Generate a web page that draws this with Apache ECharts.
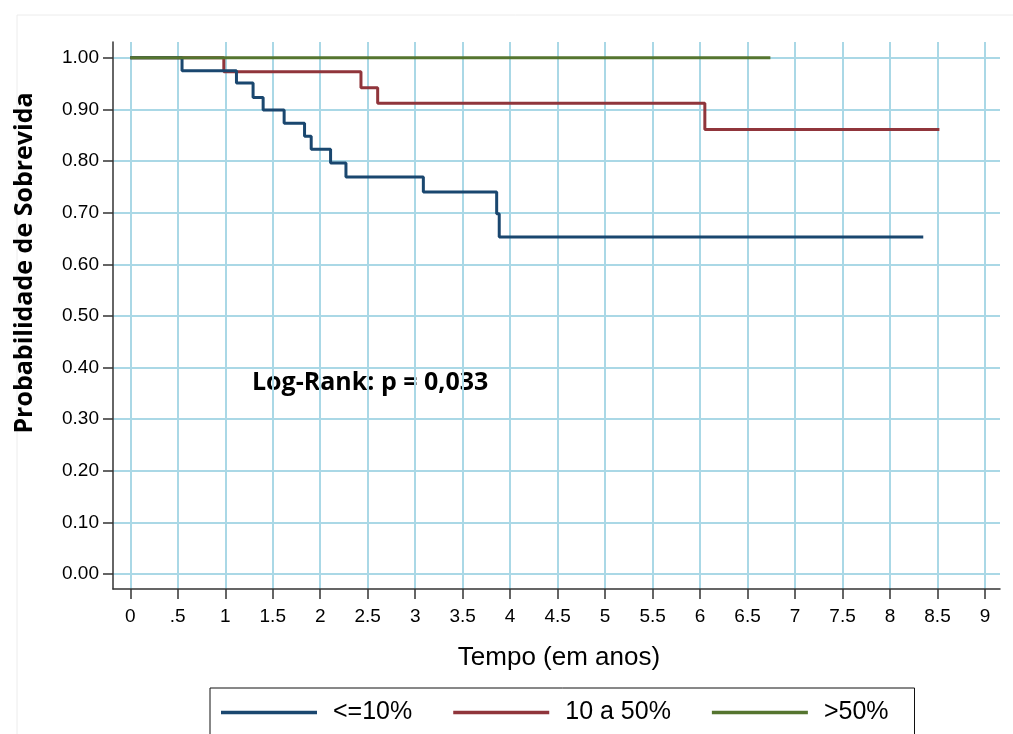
<!DOCTYPE html>
<html>
<head>
<meta charset="utf-8">
<script src="https://cdn.jsdelivr.net/npm/echarts@6/dist/echarts.min.js"></script>
<style>
html,body{margin:0;padding:0;background:#fff;}
#chart{width:1013px;height:734px;}
</style>
</head>
<body>
<div id="chart"></div>
<script>
// ---- Data ----
const seriesNames = ['<=10%', '10 a 50%', '>50%'];
const lowTimes = [0, 0.545, 1.118, 1.293, 1.399, 1.620, 1.835, 1.905, 2.109, 2.271, 3.086, 3.858, 3.885, 8.35];
const lowSurv  = [1.000, 0.975, 0.951, 0.923, 0.899, 0.873, 0.848, 0.823, 0.796, 0.769, 0.740, 0.698, 0.653, 0.653];
const midTimes = [0, 0.985, 2.429, 2.605, 6.05, 8.52];
const midSurv  = [1.000, 0.973, 0.942, 0.912, 0.861, 0.861];
const highTimes = [0, 6.74];
const highSurv  = [1.000, 1.000];
const xTickValues = [0, 0.5, 1, 1.5, 2, 2.5, 3, 3.5, 4, 4.5, 5, 5.5, 6, 6.5, 7, 7.5, 8, 8.5, 9];
const xTickLabels = ['0', '.5', '1', '1.5', '2', '2.5', '3', '3.5', '4', '4.5', '5', '5.5', '6', '6.5', '7', '7.5', '8', '8.5', '9'];
const yTickValues = [0, 0.1, 0.2, 0.3, 0.4, 0.5, 0.6, 0.7, 0.8, 0.9, 1.0];
const yTickLabels = ['0.00', '0.10', '0.20', '0.30', '0.40', '0.50', '0.60', '0.70', '0.80', '0.90', '1.00'];
const xTitle = 'Tempo (em anos)';
const yTitle = 'Probabilidade de Sobrevida';
const note = 'Log-Rank: p = 0,033';

function pairs(t, s) { return t.map((v, i) => [v, s[i]]); }
function labelFor(values, labels) {
  return function (v) {
    for (let i = 0; i < values.length; i++) if (Math.abs(values[i] - v) < 1e-6) return labels[i];
    return '';
  };
}

const colors = ['#1a476f', '#90353b', '#55752f'];
const gridColor = '#aad8e6';

const chart = echarts.init(document.getElementById('chart'), null, { renderer: 'canvas' });
chart.setOption({
  animation: false,
  backgroundColor: '#ffffff',
  color: colors,
  grid: { left: 113, right: 13, top: 42, bottom: 145, outerBoundsMode: 'none', containLabel: false },
  xAxis: {
    type: 'value',
    min: -0.182, max: 9.158,
    name: xTitle,
    nameLocation: 'middle',
    nameGap: 56,
    nameTextStyle: { fontFamily: 'Liberation Sans', fontSize: 26, color: '#000', padding: [0, 0, 0, 5] },
    axisLine: { show: true, onZero: false, lineStyle: { color: '#333', width: 1.5 } },
    axisTick: { show: true, length: 10, customValues: xTickValues, lineStyle: { color: '#333', width: 1.5 } },
    axisLabel: { customValues: xTickValues, formatter: labelFor(xTickValues, xTickLabels), fontFamily: 'Liberation Sans', fontSize: 19, color: '#000', margin: 18 },
    splitLine: { show: true, lineStyle: { color: gridColor, width: 2 } }
  },
  yAxis: {
    type: 'value',
    min: -0.029, max: 1.0306,
    axisLine: { show: true, onZero: false, lineStyle: { color: '#333', width: 1.5 } },
    axisTick: { show: true, length: 10, customValues: yTickValues, lineStyle: { color: '#333', width: 1.5 } },
    axisLabel: { customValues: yTickValues, formatter: labelFor(yTickValues, yTickLabels), fontFamily: 'Liberation Sans', fontSize: 19, color: '#000', margin: 14 },
    splitLine: { show: true, lineStyle: { color: gridColor, width: 2 } }
  },
  legend: {
    data: seriesNames,
    left: 210, top: 688,
    padding: [12, 26, 40, 11],
    itemGap: 41,
    itemWidth: 96, itemHeight: 3.5,
    icon: 'rect',
    borderColor: '#111', borderWidth: 1,
    backgroundColor: '#fff',
    textStyle: { fontFamily: 'Liberation Sans', fontSize: 25, color: '#000', padding: [0, 0, 0, 11] }
  },
  graphic: [
    { type: 'rect', z: -10, silent: true, shape: { x: 17, y: 15, width: 1100, height: 800 }, style: { fill: 'none', stroke: '#ececec', lineWidth: 1 } },
    { type: 'text', x: 25, y: 263, rotation: Math.PI / 2, style: { text: yTitle, font: 'bold 25px "Open Sans"', fill: '#000', align: 'center', verticalAlign: 'middle' } },
    { type: 'text', x: 252, y: 383, style: { text: note, font: 'bold 25px "Open Sans"', fill: '#000', align: 'left', verticalAlign: 'middle' } }
  ],
  series: [
    { name: seriesNames[0], type: 'line', step: 'end', showSymbol: false, data: pairs(lowTimes, lowSurv), lineStyle: { width: 3, color: colors[0] }, z: 4 },
    { name: seriesNames[1], type: 'line', step: 'end', showSymbol: false, data: pairs(midTimes, midSurv), lineStyle: { width: 3, color: colors[1] }, z: 3 },
    { name: seriesNames[2], type: 'line', step: 'end', showSymbol: false, data: pairs(highTimes, highSurv), lineStyle: { width: 3, color: colors[2] }, z: 5 }
  ]
});
</script>
</body>
</html>
